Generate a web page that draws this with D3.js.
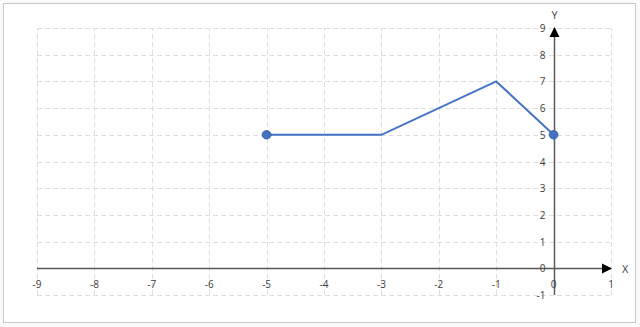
<!DOCTYPE html>
<html>
<head>
<meta charset="utf-8">
<script src="https://cdn.jsdelivr.net/npm/d3@7"></script>
<style>
  body { margin: 0; background: #fff; }
  text { font-family: "Open Sans", "Noto Sans", sans-serif; font-size: 10px; fill: #404040; }
</style>
</head>
<body>
<svg id="chart"></svg>
<script>
// series values
const xValues = [-5, -3, -1, 0];
const yValues = [5, 5, 7, 5];
// only the end points carry a marker
const markerIdx = [0, 3];
// tick labels
const xTicks = [-9, -8, -7, -6, -5, -4, -3, -2, -1, 0, 1];
const yTicks = [-1, 0, 1, 2, 3, 4, 5, 6, 7, 8, 9];
const axisNames = ["X", "Y"];

const width = 640, height = 327;
const svg = d3.select("#chart").attr("width", width).attr("height", height);

// spreadsheet behind the chart
svg.append("rect").attr("x", 0).attr("y", 0).attr("width", width).attr("height", height)
    .attr("fill", "#fafafa");
svg.append("rect").attr("x", 3.5).attr("y", 3.5).attr("width", 632).attr("height", 319)
    .attr("fill", "#fff").attr("stroke", "#c8c8c8");

const x = d3.scaleLinear().domain([-9, 1]).range([37, 611]);
const y = d3.scaleLinear().domain([-1, 9]).range([295, 28]);

// dashed gridlines
const grid = svg.append("g").attr("stroke", "#dedede").attr("stroke-dasharray", "5,3");
grid.selectAll(".gx").data(xTicks).enter().append("line")
    .attr("x1", d => Math.round(x(d)) + 0.5).attr("x2", d => Math.round(x(d)) + 0.5)
    .attr("y1", y(-1)).attr("y2", y(9));
grid.selectAll(".gy").data(yTicks).enter().append("line")
    .attr("y1", d => Math.round(y(d)) + 0.5).attr("y2", d => Math.round(y(d)) + 0.5)
    .attr("x1", x(-9)).attr("x2", x(1));

// arrow head
svg.append("defs").append("marker")
    .attr("id", "arrow").attr("viewBox", "0 0 10 10")
    .attr("refX", 9).attr("refY", 5)
    .attr("markerWidth", 7).attr("markerHeight", 7)
    .attr("orient", "auto")
    .append("path").attr("d", "M0,0L10,5L0,10Z").attr("fill", "#000");

const axisColor = "#595959";
const y0 = Math.round(y(0)) + 0.5;
const x0 = Math.round(x(0)) + 0.5;

// x axis
svg.append("line").attr("x1", x(-9)).attr("x2", x(1)).attr("y1", y0).attr("y2", y0)
    .attr("stroke", axisColor).attr("stroke-width", 1.5).attr("marker-end", "url(#arrow)");
// y axis
svg.append("line").attr("x1", x0).attr("x2", x0).attr("y1", y(-1)).attr("y2", y(9))
    .attr("stroke", axisColor).attr("stroke-width", 1.5).attr("marker-end", "url(#arrow)");

// tick labels
svg.selectAll(".xl").data(xTicks).enter().append("text")
    .attr("x", d => x(d)).attr("y", y0 + 19)
    .attr("text-anchor", "middle").text(d => d);
svg.selectAll(".yl").data(yTicks).enter().append("text")
    .attr("x", x0 - 9).attr("y", d => y(d) + 4)
    .attr("text-anchor", "end").text(d => d);

// axis names
svg.append("text").attr("x", x(1) + 11).attr("y", y0 + 4).style("font-size", "11px").text(axisNames[0]);
svg.append("text").attr("x", x0).attr("y", y(9) - 9).attr("text-anchor", "middle")
    .style("font-size", "11px").text(axisNames[1]);

// series
const pts = xValues.map((v, i) => [v, yValues[i]]);
const line = d3.line().x(d => x(d[0])).y(d => y(d[1]));
svg.append("path").datum(pts).attr("d", line)
    .attr("fill", "none").attr("stroke", "#4472c4").attr("stroke-width", 2);

svg.selectAll(".pt").data(markerIdx.map(i => pts[i])).enter().append("ellipse")
    .attr("cx", d => x(d[0])).attr("cy", d => y(d[1])).attr("rx", 4.5).attr("ry", 4.2)
    .attr("fill", "#4472c4").attr("stroke", "#2f5597").attr("stroke-width", 0.75);
</script>
</body>
</html>
